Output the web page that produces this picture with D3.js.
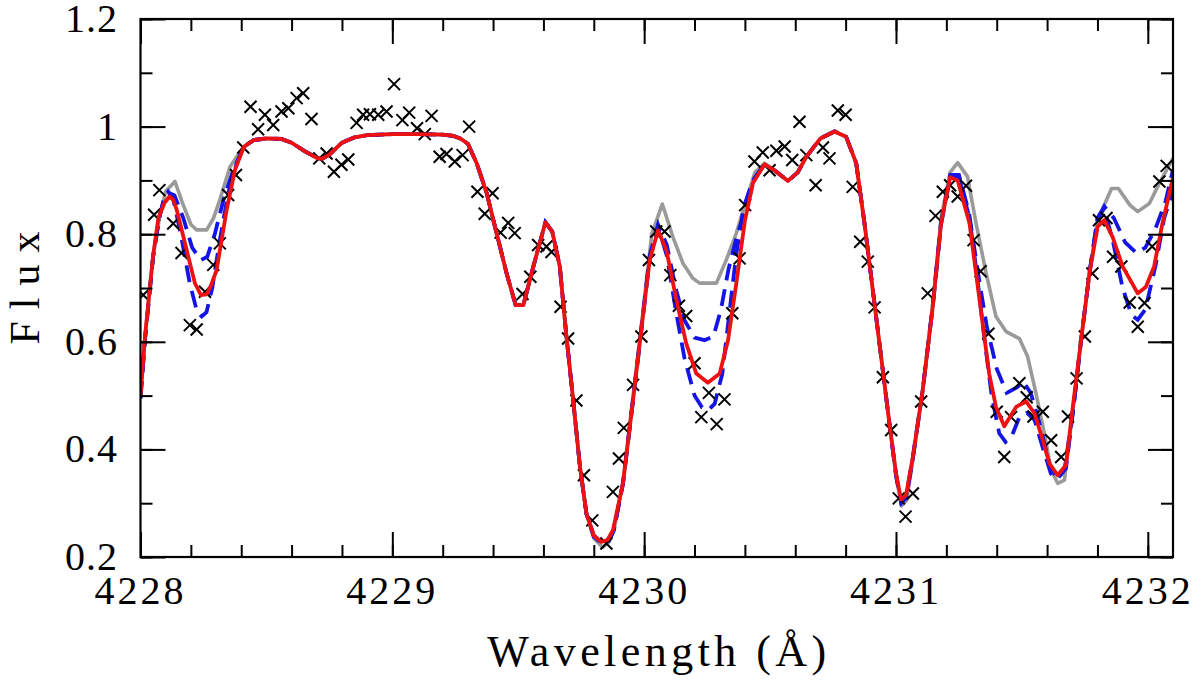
<!DOCTYPE html>
<html>
<head>
<meta charset="utf-8">
<script src="https://cdn.jsdelivr.net/npm/d3@7"></script>
<style>
  html, body { margin: 0; padding: 0; background: #fff; }
  svg text { font-family: "Liberation Serif", "DejaVu Serif", serif; fill: #000; }
</style>
</head>
<body>
<svg id="chart" width="1200" height="682"></svg>
<script>
// ---------------- DATA ----------------
const xDomain = [4228, 4232.1];
const yDomain = [0.2, 1.2];
const xTickLabels = [4228, 4229, 4230, 4231, 4232];
const yTickLabels = [0.2, 0.4, 0.6, 0.8, 1.0, 1.2];
const xLabel = "Wavelength (Å)";
const yLabel = "Flux";

// observed spectrum (crosses)
const obsWave = [
 4228.011,4228.054,4228.075,4228.130,4228.163,4228.196,4228.223,4228.256,4228.289,4228.315,
 4228.348,4228.379,4228.408,4228.437,4228.467,4228.494,4228.527,4228.560,4228.587,4228.620,
 4228.646,4228.679,4228.710,4228.739,4228.768,4228.798,4228.825,4228.858,4228.884,4228.911,
 4228.944,4228.977,4229.007,4229.040,4229.067,4229.098,4229.129,4229.156,4229.188,4229.215,
 4229.248,4229.279,4229.305,4229.338,4229.367,4229.398,4229.430,4229.460,4229.486,4229.517,
 4229.548,4229.579,4229.612,4229.632,4229.668,4229.698,4229.731,4229.761,4229.794,4229.850,
 4229.876,4229.900,4229.919,4229.956,4229.989,4230.019,4230.048,4230.081,4230.104,4230.138,
 4230.167,4230.200,4230.227,4230.257,4230.288,4230.319,4230.350,4230.379,4230.401,4230.438,
 4230.471,4230.498,4230.525,4230.558,4230.588,4230.617,4230.644,4230.681,4230.710,4230.736,
 4230.769,4230.800,4230.828,4230.858,4230.888,4230.915,4230.948,4230.981,4231.011,4231.038,
 4231.067,4231.100,4231.126,4231.157,4231.186,4231.215,4231.245,4231.278,4231.308,4231.336,
 4231.367,4231.400,4231.430,4231.457,4231.490,4231.519,4231.546,4231.583,4231.616,4231.656,
 4231.683,4231.717,4231.750,4231.780,4231.806,4231.836,4231.862,4231.895,4231.928,4231.960,
 4231.987,4232.017,4232.046,4232.075
];
const obsFlux = [
 0.687,0.836,0.882,0.820,0.765,0.631,0.623,0.693,0.743,0.783,
 0.873,0.910,0.961,1.037,0.995,1.022,1.003,1.028,1.034,1.053,
 1.062,1.014,0.941,0.950,0.916,0.929,0.939,1.007,1.022,1.023,
 1.022,1.028,1.079,1.012,1.026,0.997,0.986,1.020,0.944,0.949,
 0.935,0.947,1.000,0.879,0.838,0.876,0.803,0.821,0.802,0.689,
 0.721,0.780,0.777,0.767,0.665,0.606,0.491,0.352,0.268,0.225,
 0.321,0.383,0.440,0.520,0.610,0.752,0.805,0.805,0.724,0.667,
 0.648,0.560,0.460,0.505,0.447,0.493,0.653,0.755,0.854,0.935,
 0.952,0.919,0.955,0.963,0.938,1.009,0.947,0.891,0.961,0.941,
 1.030,1.022,0.888,0.786,0.749,0.664,0.534,0.436,0.309,0.275,
 0.318,0.489,0.690,0.834,0.879,0.891,0.870,0.890,0.789,0.731,
 0.615,0.470,0.386,0.460,0.523,0.497,0.461,0.470,0.417,0.386,
 0.461,0.532,0.610,0.727,0.826,0.830,0.758,0.740,0.673,0.628,
 0.672,0.777,0.898,0.927
];

// synthetic spectra [wavelength, flux]
const modelNone = [
 [4228.000,0.500],[4228.018,0.610],[4228.050,0.760],[4228.077,0.835],[4228.100,0.880],
 [4228.137,0.898],[4228.165,0.860],[4228.200,0.818],[4228.223,0.808],[4228.263,0.808],
 [4228.290,0.830],[4228.315,0.864],[4228.355,0.925],[4228.408,0.962],[4228.450,0.975],
 [4228.500,0.978],[4228.560,0.977],[4228.600,0.970],[4228.650,0.955],[4228.700,0.942],
 [4228.720,0.940],[4228.750,0.948],[4228.800,0.970],[4228.850,0.980],[4228.900,0.984],
 [4229.000,0.986],[4229.100,0.986],[4229.200,0.985],[4229.240,0.983],[4229.270,0.978],
 [4229.300,0.968],[4229.335,0.932],[4229.375,0.876],[4229.415,0.800],[4229.455,0.725],
 [4229.490,0.668],[4229.520,0.668],[4229.560,0.740],[4229.608,0.822],[4229.635,0.805],
 [4229.665,0.740],[4229.690,0.616],[4229.718,0.492],[4229.745,0.368],[4229.771,0.280],
 [4229.800,0.235],[4229.835,0.218],[4229.860,0.228],[4229.880,0.250],[4229.916,0.340],
 [4229.956,0.500],[4229.995,0.655],[4230.030,0.800],[4230.072,0.856],[4230.114,0.795],
 [4230.154,0.746],[4230.193,0.718],[4230.220,0.709],[4230.287,0.709],[4230.326,0.752],
 [4230.366,0.802],[4230.406,0.864],[4230.440,0.915],[4230.478,0.932],[4230.520,0.918],
 [4230.571,0.899],[4230.610,0.915],[4230.644,0.944],[4230.700,0.978],[4230.756,0.991],
 [4230.802,0.981],[4230.842,0.932],[4230.875,0.820],[4230.908,0.696],[4230.941,0.572],
 [4230.974,0.448],[4231.000,0.350],[4231.022,0.295],[4231.042,0.305],[4231.067,0.380],
 [4231.106,0.510],[4231.146,0.670],[4231.179,0.830],[4231.215,0.915],[4231.245,0.933],
 [4231.284,0.907],[4231.318,0.820],[4231.358,0.727],[4231.397,0.647],[4231.437,0.619],
 [4231.490,0.606],[4231.523,0.572],[4231.556,0.504],[4231.589,0.430],[4231.616,0.362],
 [4231.642,0.337],[4231.669,0.343],[4231.702,0.470],[4231.735,0.603],[4231.768,0.727],
 [4231.795,0.810],[4231.823,0.850],[4231.856,0.885],[4231.883,0.885],[4231.929,0.854],
 [4231.960,0.842],[4232.006,0.857],[4232.046,0.895],[4232.100,0.941]
];
const modelLow = [
 [4228.000,0.495],[4228.018,0.605],[4228.050,0.758],[4228.075,0.832],[4228.095,0.868],
 [4228.112,0.877],[4228.135,0.872],[4228.170,0.830],[4228.205,0.775],[4228.240,0.752],
 [4228.265,0.758],[4228.295,0.800],[4228.330,0.865],[4228.365,0.915],[4228.410,0.962],
 [4228.450,0.975],[4228.500,0.978],[4228.560,0.977],[4228.600,0.970],[4228.650,0.955],
 [4228.700,0.942],[4228.720,0.940],[4228.750,0.948],[4228.800,0.970],[4228.850,0.980],
 [4228.900,0.984],[4229.000,0.986],[4229.100,0.986],[4229.200,0.985],[4229.240,0.983],
 [4229.270,0.978],[4229.300,0.968],[4229.335,0.932],[4229.375,0.876],[4229.415,0.800],
 [4229.455,0.725],[4229.490,0.668],[4229.520,0.668],[4229.560,0.740],[4229.608,0.822],
 [4229.635,0.805],[4229.665,0.740],[4229.690,0.616],[4229.718,0.492],[4229.745,0.368],
 [4229.771,0.280],[4229.800,0.238],[4229.835,0.224],[4229.860,0.230],[4229.880,0.250],
 [4229.916,0.338],[4229.956,0.495],[4229.995,0.650],[4230.022,0.760],[4230.055,0.818],
 [4230.090,0.780],[4230.125,0.700],[4230.160,0.640],[4230.200,0.608],[4230.240,0.603],
 [4230.275,0.610],[4230.305,0.660],[4230.335,0.735],[4230.370,0.800],[4230.406,0.850],
 [4230.440,0.905],[4230.478,0.930],[4230.520,0.918],[4230.571,0.899],[4230.610,0.915],
 [4230.644,0.944],[4230.700,0.978],[4230.756,0.991],[4230.802,0.981],[4230.842,0.932],
 [4230.875,0.820],[4230.908,0.696],[4230.941,0.572],[4230.974,0.448],[4231.000,0.352],
 [4231.021,0.300],[4231.041,0.310],[4231.067,0.384],[4231.106,0.510],[4231.146,0.668],
 [4231.179,0.823],[4231.215,0.910],[4231.250,0.910],[4231.290,0.840],[4231.325,0.730],
 [4231.360,0.630],[4231.400,0.550],[4231.440,0.505],[4231.480,0.515],[4231.505,0.526],
 [4231.535,0.505],[4231.575,0.440],[4231.610,0.370],[4231.642,0.345],[4231.675,0.365],
 [4231.705,0.478],[4231.735,0.603],[4231.768,0.727],[4231.801,0.830],[4231.830,0.850],
 [4231.865,0.830],[4231.910,0.785],[4231.955,0.765],[4231.990,0.775],[4232.030,0.810],
 [4232.070,0.860],[4232.100,0.920]
];
const modelHigh = [
 [4228.000,0.495],[4228.018,0.605],[4228.050,0.758],[4228.075,0.832],[4228.095,0.868],
 [4228.110,0.879],[4228.130,0.865],[4228.160,0.800],[4228.195,0.710],[4228.225,0.655],
 [4228.243,0.647],[4228.262,0.655],[4228.285,0.700],[4228.315,0.789],[4228.348,0.876],
 [4228.382,0.932],[4228.410,0.962],[4228.450,0.975],[4228.500,0.978],[4228.560,0.977],
 [4228.600,0.970],[4228.650,0.955],[4228.700,0.942],[4228.720,0.940],[4228.750,0.948],
 [4228.800,0.970],[4228.850,0.980],[4228.900,0.984],[4229.000,0.986],[4229.100,0.986],
 [4229.200,0.985],[4229.240,0.983],[4229.270,0.978],[4229.300,0.968],[4229.335,0.932],
 [4229.375,0.876],[4229.415,0.800],[4229.455,0.725],[4229.490,0.668],[4229.520,0.668],
 [4229.560,0.740],[4229.608,0.822],[4229.635,0.805],[4229.665,0.740],[4229.690,0.616],
 [4229.718,0.492],[4229.745,0.368],[4229.771,0.280],[4229.800,0.240],[4229.835,0.226],
 [4229.860,0.232],[4229.880,0.252],[4229.916,0.336],[4229.956,0.490],[4229.995,0.645],
 [4230.022,0.755],[4230.055,0.815],[4230.090,0.760],[4230.125,0.660],[4230.160,0.570],
 [4230.200,0.500],[4230.230,0.478],[4230.255,0.473],[4230.280,0.485],[4230.310,0.540],
 [4230.335,0.640],[4230.365,0.760],[4230.395,0.850],[4230.432,0.900],[4230.478,0.930],
 [4230.520,0.918],[4230.571,0.899],[4230.610,0.915],[4230.644,0.944],[4230.700,0.978],
 [4230.756,0.991],[4230.802,0.981],[4230.842,0.932],[4230.875,0.820],[4230.908,0.696],
 [4230.941,0.572],[4230.974,0.448],[4231.000,0.354],[4231.020,0.304],[4231.040,0.312],
 [4231.067,0.386],[4231.106,0.510],[4231.146,0.665],[4231.179,0.818],[4231.215,0.905],
 [4231.250,0.905],[4231.292,0.830],[4231.320,0.730],[4231.350,0.610],[4231.380,0.500],
 [4231.410,0.430],[4231.435,0.414],[4231.460,0.425],[4231.490,0.460],[4231.520,0.468],
 [4231.550,0.455],[4231.585,0.400],[4231.615,0.355],[4231.642,0.345],[4231.670,0.365],
 [4231.705,0.478],[4231.735,0.603],[4231.768,0.727],[4231.800,0.830],[4231.825,0.850],
 [4231.860,0.790],[4231.900,0.700],[4231.935,0.650],[4231.960,0.641],[4231.990,0.660],
 [4232.030,0.740],[4232.065,0.830],[4232.100,0.880]
];
const modelBest = [
 [4228.000,0.500],[4228.018,0.610],[4228.050,0.760],[4228.071,0.830],[4228.095,0.858],
 [4228.115,0.870],[4228.130,0.864],[4228.144,0.845],[4228.183,0.771],[4228.216,0.709],
 [4228.240,0.687],[4228.262,0.688],[4228.280,0.705],[4228.302,0.733],[4228.342,0.845],
 [4228.375,0.919],[4228.410,0.962],[4228.450,0.975],[4228.500,0.978],[4228.560,0.977],
 [4228.600,0.970],[4228.650,0.955],[4228.700,0.942],[4228.720,0.940],[4228.750,0.948],
 [4228.800,0.970],[4228.850,0.980],[4228.900,0.984],[4229.000,0.986],[4229.100,0.986],
 [4229.200,0.985],[4229.240,0.983],[4229.270,0.978],[4229.300,0.968],[4229.335,0.932],
 [4229.375,0.876],[4229.415,0.800],[4229.455,0.725],[4229.490,0.668],[4229.520,0.668],
 [4229.560,0.740],[4229.608,0.822],[4229.635,0.805],[4229.665,0.740],[4229.690,0.616],
 [4229.718,0.492],[4229.745,0.368],[4229.771,0.280],[4229.800,0.240],[4229.830,0.228],
 [4229.855,0.232],[4229.876,0.250],[4229.916,0.337],[4229.956,0.492],[4229.995,0.647],
 [4230.022,0.752],[4230.055,0.807],[4230.088,0.771],[4230.128,0.678],[4230.167,0.597],
 [4230.207,0.541],[4230.253,0.524],[4230.300,0.541],[4230.333,0.603],[4230.366,0.709],
 [4230.400,0.825],[4230.432,0.895],[4230.478,0.930],[4230.520,0.918],[4230.571,0.899],
 [4230.610,0.915],[4230.644,0.944],[4230.700,0.978],[4230.756,0.991],[4230.802,0.981],
 [4230.842,0.932],[4230.875,0.820],[4230.908,0.696],[4230.941,0.572],[4230.974,0.448],
 [4231.000,0.356],[4231.020,0.307],[4231.040,0.315],[4231.067,0.386],[4231.106,0.510],
 [4231.146,0.665],[4231.179,0.820],[4231.215,0.906],[4231.245,0.900],[4231.292,0.820],
 [4231.318,0.727],[4231.344,0.634],[4231.370,0.541],[4231.397,0.479],[4231.430,0.443],
 [4231.477,0.479],[4231.517,0.489],[4231.550,0.467],[4231.583,0.417],[4231.609,0.374],
 [4231.642,0.352],[4231.675,0.371],[4231.702,0.479],[4231.735,0.603],[4231.768,0.727],
 [4231.801,0.814],[4231.827,0.826],[4231.860,0.795],[4231.900,0.740],[4231.960,0.690],
 [4231.992,0.702],[4232.025,0.740],[4232.058,0.820],[4232.100,0.905]
];

// ---------------- CHART ----------------
const W = 1200, H = 682;
const margin = {left: 140.5, right: 27, top: 19, bottom: 125};
const svg = d3.select("#chart");
const x = d3.scaleLinear().domain(xDomain).range([margin.left, W - margin.right]);
const y = d3.scaleLinear().domain(yDomain).range([H - margin.bottom, margin.top]);
const x0 = x.range()[0], x1 = x.range()[1], y0 = y.range()[0], y1 = y.range()[1];

svg.append("defs").append("clipPath").attr("id", "clip")
  .append("rect").attr("x", x0).attr("y", y1).attr("width", x1 - x0).attr("height", y0 - y1);

const plot = svg.append("g").attr("clip-path", "url(#clip)");
const line = d3.line().x(d => x(d[0])).y(d => y(d[1]));

plot.append("path").datum(modelNone).attr("d", line)
  .attr("fill", "none").attr("stroke", "#9a9a9a").attr("stroke-width", 3.6).attr("stroke-linejoin", "round");
[modelLow, modelHigh].forEach(m => {
  plot.append("path").datum(m).attr("d", line)
    .attr("fill", "none").attr("stroke", "#1414e6").attr("stroke-width", 3.8)
    .attr("stroke-dasharray", "17,9");
});

// crosses
const obs = obsWave.map((w, i) => [w, obsFlux[i]]);
const s = 6;
plot.append("g").selectAll("path").data(obs).join("path")
  .attr("d", d => {
    const cx = x(d[0]), cy = y(d[1]);
    return `M${cx - s},${cy - s}L${cx + s},${cy + s}M${cx - s},${cy + s}L${cx + s},${cy - s}`;
  })
  .attr("stroke", "#000").attr("stroke-width", 2).attr("fill", "none");

plot.append("path").datum(modelBest).attr("d", line)
  .attr("fill", "none").attr("stroke", "#ee1111").attr("stroke-width", 3.8).attr("stroke-linejoin", "round");

// axes: ticks inward on all four sides
const majorLen = 25, minorLen = 12;
const xMajor = xTickLabels;
const xMinor = d3.range(0, 21).map(i => 4228 + i * 0.2).filter(v => v <= xDomain[1] + 1e-9);
const yMinor = d3.range(0, 11).map(i => 0.2 + i * 0.1);

function styleAxis(g) {
  g.select(".domain").remove();
  g.selectAll("line").attr("stroke", "#000").attr("stroke-width", 2);
}
svg.append("g").attr("transform", `translate(0,${y0})`)
  .call(d3.axisBottom(x).tickValues(xMinor).tickSize(-minorLen).tickFormat("")).call(styleAxis);
svg.append("g").attr("transform", `translate(0,${y1})`)
  .call(d3.axisTop(x).tickValues(xMinor).tickSize(-minorLen).tickFormat("")).call(styleAxis);
svg.append("g").attr("transform", `translate(${x0},0)`)
  .call(d3.axisLeft(y).tickValues(yMinor).tickSize(-minorLen).tickFormat("")).call(styleAxis);
svg.append("g").attr("transform", `translate(${x1},0)`)
  .call(d3.axisRight(y).tickValues(yMinor).tickSize(-minorLen).tickFormat("")).call(styleAxis);

// major ticks
svg.append("g").attr("transform", `translate(0,${y0})`)
  .call(d3.axisBottom(x).tickValues(xMajor).tickSize(-majorLen).tickFormat("")).call(styleAxis);
svg.append("g").attr("transform", `translate(0,${y1})`)
  .call(d3.axisTop(x).tickValues(xMajor).tickSize(-majorLen).tickFormat("")).call(styleAxis);
svg.append("g").attr("transform", `translate(${x0},0)`)
  .call(d3.axisLeft(y).tickValues(yTickLabels).tickSize(-majorLen).tickFormat("")).call(styleAxis);
svg.append("g").attr("transform", `translate(${x1},0)`)
  .call(d3.axisRight(y).tickValues(yTickLabels).tickSize(-majorLen).tickFormat("")).call(styleAxis);

// frame
svg.append("rect").attr("x", x0).attr("y", y1).attr("width", x1 - x0).attr("height", y0 - y1)
  .attr("fill", "none").attr("stroke", "#000").attr("stroke-width", 2.2);

// tick labels
svg.append("g").selectAll("text").data(xTickLabels).join("text")
  .attr("x", d => x(d)).attr("y", 604)
  .attr("text-anchor", "middle").attr("font-size", 40).attr("letter-spacing", 3)
  .text(d => d3.format("d")(d));
svg.append("g").selectAll("text").data(yTickLabels).join("text")
  .attr("x", 118).attr("y", d => y(d) + 13)
  .attr("text-anchor", "end").attr("font-size", 40).attr("letter-spacing", 1)
  .text(d => d === 1 ? "1" : d3.format(".1f")(d));

// axis titles
svg.append("text").attr("x", (x0 + x1) / 2).attr("y", 666)
  .attr("text-anchor", "middle").attr("font-size", 44)
  .attr("textLength", 339).attr("lengthAdjust", "spacing")
  .text(xLabel);
svg.append("text")
  .attr("transform", `translate(39,${(y0 + y1) / 2}) rotate(-90)`)
  .attr("text-anchor", "middle").attr("font-size", 42)
  .attr("textLength", 113).attr("lengthAdjust", "spacing")
  .text(yLabel);
</script>
</body>
</html>
